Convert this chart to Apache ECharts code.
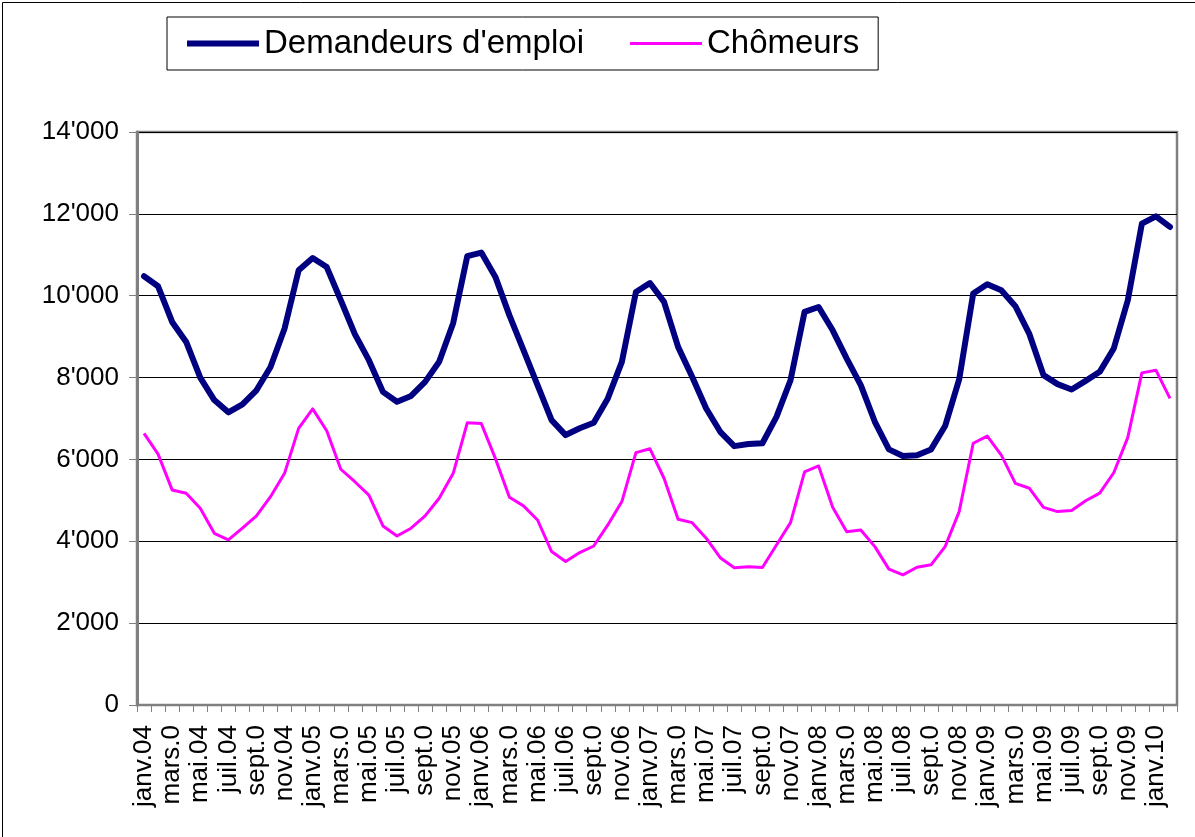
<!DOCTYPE html>
<html>
<head>
<meta charset="utf-8">
<script src="https://cdn.jsdelivr.net/npm/echarts@6/dist/echarts.min.js"></script>
<style>
html,body{margin:0;padding:0;background:#fff;}
#chart{width:1195px;height:837px;}
</style>
</head>
<body>
<div id="chart"></div>
<script>
// Monthly categories, janv.04 .. févr.10
const months = ["janv.","févr.","mars","avr.","mai","juin","juil.","août","sept.","oct.","nov.","déc."];
const years = ["04","05","06","07","08","09","10"];
const categories = [];
years.forEach(y => months.forEach(m => categories.push(m.replace(/\.$/, "") + "." + y)));
categories.length = 74;

// Displayed tick labels (every second month, as shown)
const xTickLabels = [
  "janv.04","mars.0","mai.04","juil.04","sept.0","nov.04",
  "janv.05","mars.0","mai.05","juil.05","sept.0","nov.05",
  "janv.06","mars.0","mai.06","juil.06","sept.0","nov.06",
  "janv.07","mars.0","mai.07","juil.07","sept.0","nov.07",
  "janv.08","mars.0","mai.08","juil.08","sept.0","nov.08",
  "janv.09","mars.0","mai.09","juil.09","sept.0","nov.09",
  "janv.10"
];

const demandeurs = [10475,10230,9360,8870,8000,7450,7150,7345,7690,8260,9200,10620,
  10920,10700,9890,9060,8425,7650,7410,7550,7895,8385,9335,10965,
  11055,10460,9520,8670,7815,6960,6595,6760,6895,7490,8385,10090,
  10310,9850,8750,8020,7245,6675,6325,6375,6395,7040,7935,9605,
  9725,9155,8465,7815,6920,6245,6085,6100,6245,6815,7955,10055,
  10280,10135,9745,9060,8060,7840,7710,7920,8140,8710,9890,11760,
  11940,11680];

const chomeurs = [6635,6130,5255,5175,4805,4195,4035,4320,4620,5090,5660,6760,
  7235,6700,5760,5455,5130,4375,4130,4320,4620,5050,5660,6895,
  6875,6025,5075,4865,4520,3750,3505,3725,3885,4400,4970,6165,
  6260,5540,4540,4455,4075,3600,3355,3380,3360,3910,4455,5695,
  5840,4830,4235,4275,3870,3320,3180,3365,3425,3870,4725,6395,
  6570,6105,5415,5295,4830,4725,4750,4990,5175,5675,6540,8115,
  8180,7490];

const yTicks = { min: 0, max: 14000, interval: 2000 };
const seriesNames = ["Demandeurs d'emploi", "Chômeurs"];

const FONT = "'Liberation Sans', Arial, sans-serif";
const chart = echarts.init(document.getElementById('chart'), null, {renderer:'canvas'});
chart.setOption({
  animation: false,
  backgroundColor: '#ffffff',
  graphic: [{
    type: 'rect', left: 0, top: 0, z: -10,
    shape: { x: 0.5, y: 0.5, width: 1193, height: 835 },
    style: { fill: 'none', stroke: '#000', lineWidth: 1 }
  }],
  legend: {
    left: 167, top: 17,
    padding: [10, 19, 10, 20],
    borderColor: '#000', borderWidth: 1,
    itemWidth: 72, itemHeight: 14, itemGap: 46,
    textStyle: { fontFamily: FONT, fontSize: 33, color: '#000' },
    data: [
      { name: seriesNames[0], icon: 'path://M0,0 L72,0 L72,6 L0,6 Z', itemStyle: { color: '#000080' } },
      { name: seriesNames[1], icon: 'path://M0,0 L72,0 L72,3 L0,3 Z', itemStyle: { color: '#ff00ff' } }
    ]
  },
  grid: {
    left: 137, right: 18, top: 132, bottom: 132,
    show: true, borderColor: '#808080', borderWidth: 2.5, backgroundColor: 'transparent'
  },
  xAxis: {
    type: 'category',
    data: categories,
    boundaryGap: true,
    axisLine: { lineStyle: { color: '#808080', width: 2 } },
    axisTick: { show: true, interval: 0, length: 7, lineStyle: { color: '#808080', width: 1 } },
    axisLabel: {
      interval: 1, rotate: 90, margin: 20,
      fontFamily: FONT, fontSize: 26, color: '#000',
      formatter: (v, i) => xTickLabels[i / 2]
    },
    splitLine: { show: false }
  },
  yAxis: {
    type: 'value',
    min: yTicks.min, max: yTicks.max, interval: yTicks.interval,
    axisLine: { show: true, lineStyle: { color: '#808080', width: 3 } },
    axisTick: { show: true, length: 8, lineStyle: { color: '#808080', width: 1 } },
    axisLabel: {
      margin: 18, fontFamily: FONT, fontSize: 26, color: '#000',
      formatter: v => String(v).replace(/\B(?=(\d{3})+(?!\d))/g, "'")
    },
    splitLine: { show: true, lineStyle: { color: '#000', width: 1 } }
  },
  series: [
    {
      name: seriesNames[0], type: 'line', data: demandeurs,
      symbol: 'none', smooth: false,
      lineStyle: { color: '#000080', width: 6, cap: 'round', join: 'round' },
      itemStyle: { color: '#000080' }
    },
    {
      name: seriesNames[1], type: 'line', data: chomeurs,
      symbol: 'none', smooth: false,
      lineStyle: { color: '#ff00ff', width: 3, join: 'round' },
      itemStyle: { color: '#ff00ff' }
    }
  ]
});
</script>
</body>
</html>
